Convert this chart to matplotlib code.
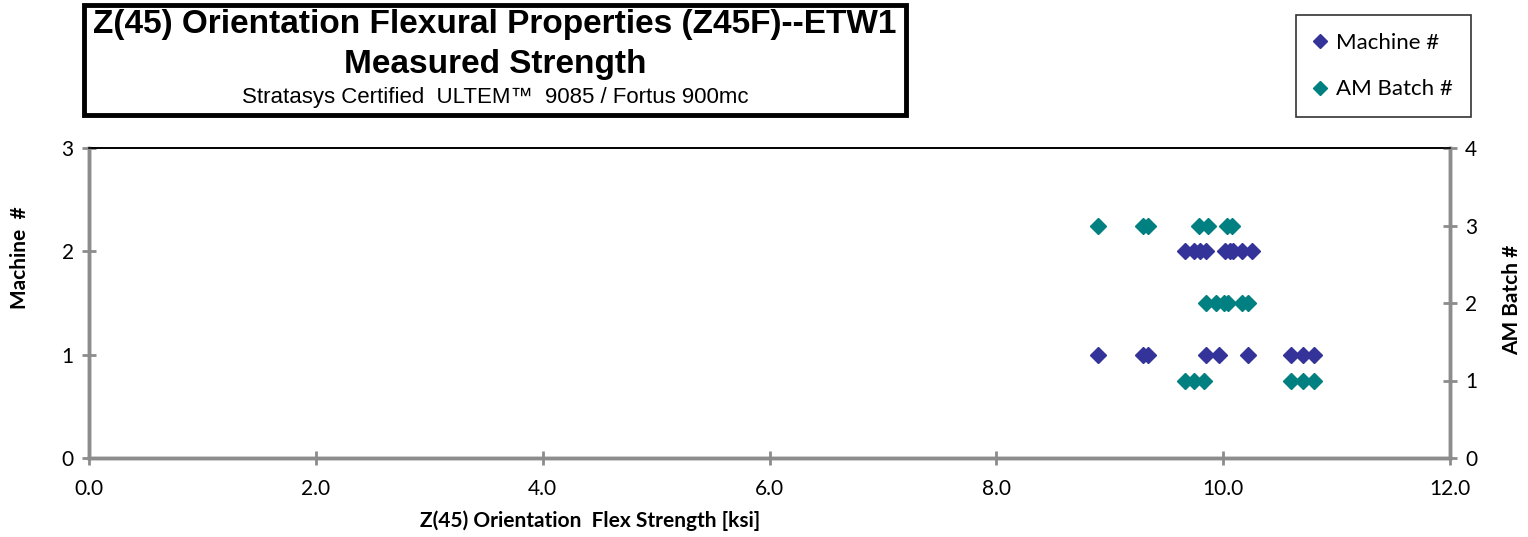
import matplotlib
matplotlib.use('Agg')
import matplotlib.pyplot as plt
from matplotlib.patches import Rectangle
from matplotlib.lines import Line2D

# strength values [ksi]
machine1 = [8.90, 9.29, 9.34, 9.85, 9.96, 10.22, 10.60, 10.70, 10.80]
machine2 = [9.66, 9.74, 9.80, 9.85, 10.02, 10.06, 10.09, 10.17, 10.25]
batch1 = [9.66, 9.74, 9.83, 10.60, 10.70, 10.80]
batch2 = [9.85, 9.94, 10.01, 10.04, 10.17, 10.22]
batch3 = [8.90, 9.29, 9.34, 9.79, 9.87, 10.03, 10.08]

machine_color = '#333399'
batch_color = '#008080'
spine_gray = '#8c8c8c'

plt.rcParams['font.family'] = ['Lato', 'DejaVu Sans']

fig = plt.figure(figsize=(15.28, 5.37), dpi=100)
ax = fig.add_axes([89/1528, 1-458/537, (1450-89)/1528, (458-148)/537])
ax2 = ax.twinx()

ms = 8
ax.plot(machine1, [1]*len(machine1), 'D', color=machine_color, ms=ms, ls='none')
ax.plot(machine2, [2]*len(machine2), 'D', color=machine_color, ms=ms, ls='none')
ax2.plot(batch1, [1]*len(batch1), 'D', color=batch_color, ms=ms, ls='none')
ax2.plot(batch2, [2]*len(batch2), 'D', color=batch_color, ms=ms, ls='none')
ax2.plot(batch3, [3]*len(batch3), 'D', color=batch_color, ms=ms, ls='none')

ax.set_xlim(0, 12)
ax.set_ylim(0, 3)
ax2.set_ylim(0, 4)
ax.set_xticks([0, 2, 4, 6, 8, 10, 12])
ax.set_xticklabels(['%.1f' % v for v in [0, 2, 4, 6, 8, 10, 12]])
ax.set_yticks([0, 1, 2, 3])
ax2.set_yticks([0, 1, 2, 3, 4])

for a in (ax, ax2):
    for side in ('left', 'right', 'bottom'):
        a.spines[side].set_color(spine_gray)
        a.spines[side].set_linewidth(2.5)
    a.spines['top'].set_color('black')
    a.spines['top'].set_linewidth(1.2)
    a.tick_params(direction='inout', length=10, width=2, color=spine_gray,
                  labelsize=15, pad=6)
ax.tick_params(axis='x', pad=10)

fig.text(590/1528, 1-521/537, 'Z(45) Orientation  Flex Strength [ksi]',
         ha='center', va='center', fontsize=15, fontweight='bold')
fig.text(20/1528, 1-258/537, 'Machine  #', rotation=90, ha='center',
         va='center', fontsize=15, fontweight='bold')
fig.text(1512/1528, 1-300/537, 'AM Batch #', rotation=90, ha='center',
         va='center', fontsize=15, fontweight='bold')

# title box
narrow = ['Liberation Sans Narrow', 'Liberation Sans', 'DejaVu Sans']
fig.patches.append(Rectangle((84/1528, 1-115/537), (906-84)/1528, (115-5)/537,
                             transform=fig.transFigure, fill=False,
                             edgecolor='black', linewidth=3.5))
fig.text(495/1528, 1-24/537, 'Z(45) Orientation Flexural Properties (Z45F)--ETW1',
         ha='center', va='center', fontsize=24, fontweight='bold', family=narrow)
fig.text(495/1528, 1-65/537, 'Measured Strength', ha='center', va='center',
         fontsize=24, fontweight='bold', family=narrow)
fig.text(495/1528, 1-98/537, 'Stratasys Certified  ULTEM\u2122  9085 / Fortus 900mc',
         ha='center', va='center', fontsize=16, family=narrow)

# legend box
handles = [Line2D([], [], marker='D', ls='none', color=machine_color, ms=7),
           Line2D([], [], marker='D', ls='none', color=batch_color, ms=7)]
leg = fig.legend(handles, ['Machine #', 'AM Batch #'],
                 loc='upper left', bbox_to_anchor=(1296/1528, 1-15/537),
                 frameon=True, fancybox=False, fontsize=16, handlelength=0.6,
                 handletextpad=0.4, labelspacing=1.2, borderpad=0.8,
                 borderaxespad=0)
leg.get_frame().set_edgecolor('black')
leg.get_frame().set_linewidth(1.2)

fig.savefig('out.png', dpi=100)
